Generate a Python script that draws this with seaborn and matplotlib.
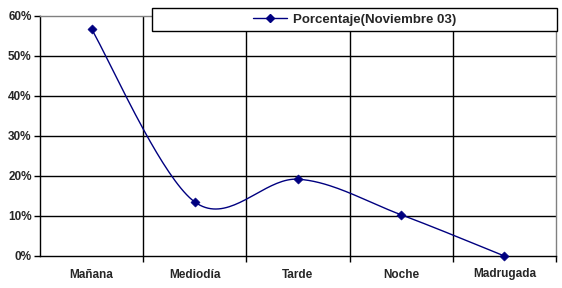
import numpy as np
import pandas as pd
import matplotlib
matplotlib.use("Agg")
import matplotlib.pyplot as plt
import seaborn as sns
from matplotlib.lines import Line2D
from matplotlib.patches import Rectangle
from matplotlib.ticker import FuncFormatter

categories = ["Mañana", "Mediodía", "Tarde", "Noche", "Madrugada"]
values = [56.7, 13.5, 19.2, 10.3, 0.0]
series_name = "Porcentaje(Noviembre 03)"

sns.set_style("white")
plt.rcParams['font.family'] = ['Liberation Sans', 'DejaVu Sans']

fig = plt.figure(figsize=(5.62, 2.88), dpi=100)
ax = fig.add_axes([40/562, 32/288, 516/562, 240/288])

df = pd.DataFrame({"cat": categories, "val": values, "pos": np.arange(len(categories))})

# Excel-style smoothed line (Catmull-Rom Bezier through the points)
xs = df["pos"].to_numpy(float)
ys = df["val"].to_numpy(float)
px = np.concatenate([[xs[0]], xs, [xs[-1]]])
py = np.concatenate([[ys[0]], ys, [ys[-1]]])
cx, cy = [], []
t = np.linspace(0, 1, 40)
for i in range(1, len(px) - 2):
    p0 = np.array([px[i - 1], py[i - 1]])
    p1 = np.array([px[i], py[i]])
    p2 = np.array([px[i + 1], py[i + 1]])
    p3 = np.array([px[i + 2], py[i + 2]])
    c1 = p1 + (p2 - p0) / 6
    c2 = p2 - (p3 - p1) / 6
    for tt in t:
        b = ((1 - tt) ** 3) * p1 + 3 * ((1 - tt) ** 2) * tt * c1 + 3 * (1 - tt) * tt ** 2 * c2 + tt ** 3 * p2
        cx.append(b[0]); cy.append(b[1])
ax.plot(cx, cy, color="#000080", lw=1.0, zorder=3, clip_on=False)
sns.scatterplot(data=df, x="pos", y="val", marker="D", s=22, color="#000080",
                edgecolor="#000080", ax=ax, zorder=4, legend=False, clip_on=False)

ax.set_xlim(-0.5, 4.5)
ax.set_ylim(0, 60)
ax.set_yticks(np.arange(0, 61, 10))
ax.yaxis.set_major_formatter(FuncFormatter(lambda v, p: f"{int(v)}%"))
ax.set_xticks(df["pos"])
ax.set_xticklabels(categories)
ax.set_xticks([0.5, 1.5, 2.5, 3.5, 4.5], minor=True)
ax.set_xlabel("")
ax.set_ylabel("")

for y in range(10, 60, 10):
    ax.axhline(y, color="black", lw=1, zorder=1)
for x in [0.5, 1.5, 2.5, 3.5]:
    ax.axvline(x, color="black", lw=1, zorder=1)

for s in ["left", "bottom"]:
    ax.spines[s].set_color("black")
    ax.spines[s].set_linewidth(1)
for s in ["top", "right"]:
    ax.spines[s].set_visible(True)
    ax.spines[s].set_color("#808080")
    ax.spines[s].set_linewidth(1)

ax.tick_params(axis="y", which="major", direction="out", length=4, width=1, color="black",
               labelsize=8.5, pad=2, left=True)
ax.tick_params(axis="x", which="major", length=0, labelsize=8.5, pad=9)
ax.tick_params(axis="x", which="minor", direction="out", length=4, width=1, color="black", bottom=True)
for lbl in ax.get_xticklabels() + ax.get_yticklabels():
    lbl.set_fontweight("bold")

# legend box
x0, x1, y0, y1 = 152/562, 557/562, 1 - 31/288, 1 - 8/288
box = Rectangle((x0, y0), x1 - x0, y1 - y0, transform=fig.transFigure,
                facecolor="white", edgecolor="black", lw=1, zorder=10)
fig.add_artist(box)
handle = Line2D([], [], color="#000080", lw=1, marker="D", markersize=4)
leg = fig.legend([handle], [series_name], loc="center",
                 bbox_to_anchor=((x0 + x1) / 2, (y0 + y1) / 2), bbox_transform=fig.transFigure,
                 frameon=False, borderaxespad=0, borderpad=0, handlelength=2.6, handletextpad=0.4,
                 prop={"weight": "bold", "size": 9.5})
leg.set_zorder(11)

fig.savefig("out.png", dpi=100)
